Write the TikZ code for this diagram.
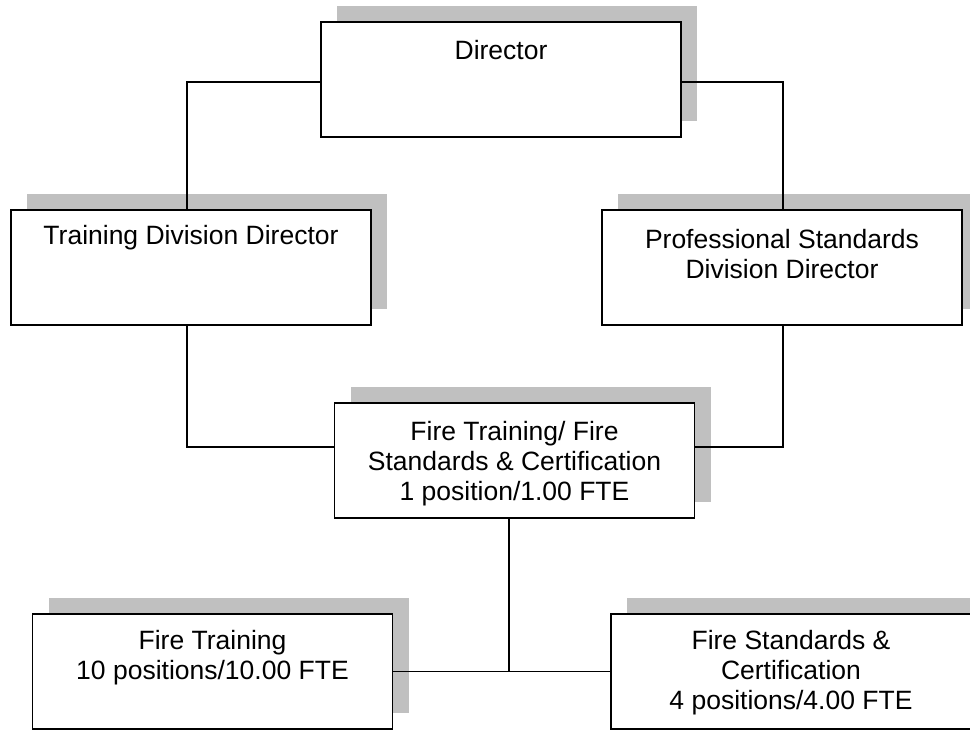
\documentclass[tikz,border=0pt]{standalone}
\usepackage{fontspec}
\setmainfont{Liberation Sans}
\usetikzlibrary{shadows,calc}
\definecolor{shadowgray}{HTML}{C0C0C0}
\begin{document}
\begin{tikzpicture}[x=1pt,y=-1pt,
  orgbox/.style={draw, line width=1.6pt, fill=white, minimum width=360pt, minimum height=115pt, inner sep=0pt,
    general shadow={fill=shadowgray, draw=none, shadow xshift=16pt, shadow yshift=16pt}},
  boxtext/.style={anchor=north, inner sep=0pt, align=center, font=\fontsize{26.5pt}{30pt}\selectfont},
  link/.style={line width=1.3pt}]
\useasboundingbox (0,0) rectangle (970,730);
\clip (0,0) rectangle (970,730);
\fill[white] (0,0) rectangle (970,730);
% boxes
\node[orgbox] (dir)   at (501,79.5) {};
\node[orgbox] (train) at (191,267.5) {};
\node[orgbox] (prof)  at (782,267.5) {};
\node[orgbox] (cen)   at (514.5,460.5) {};
\node[orgbox] (ft)    at (212.5,671.5) {};
\node[orgbox] (fs)    at (791,671.5) {};
% texts
\node[boxtext] (dirt)   at ($(dir.north)+(0,18.5)$) {Director};
\node[boxtext] (traint) at ($(train.north)+(0,16)$) {Training Division Director};
\node[boxtext] (proft)  at ($(prof.north)+(0,20)$) {Professional Standards\\Division Director};
\node[boxtext] (cent)   at ($(cen.north)+(0,19)$) {Fire Training/ Fire\\Standards \& Certification\\1 position/1.00 FTE};
\node[boxtext] (ftt)    at ($(ft.north)+(0,17)$) {Fire Training\\10 positions/10.00 FTE};
\node[boxtext] (fst)    at ($(fs.north)+(0,17)$) {Fire Standards \&\\Certification\\4 positions/4.00 FTE};
% connectors
\draw[link] ([yshift=-2.5pt]dir.west) -| ([xshift=-4pt]train.north);
\draw[link] ([yshift=-2.5pt]dir.east) -| ([xshift=1pt]prof.north);
\draw[link] ([xshift=-4pt]train.south) |- ([yshift=13.5pt]cen.west);
\draw[link] ([xshift=1pt]prof.south) |- ([yshift=13.5pt]cen.east);
\coordinate (drop) at ([xshift=-5.5pt]cen.south);
\draw[link] (drop) -- (drop |- ft.east);
\draw[link] (ft.east) -- (fs.west);
\end{tikzpicture}
\end{document}
